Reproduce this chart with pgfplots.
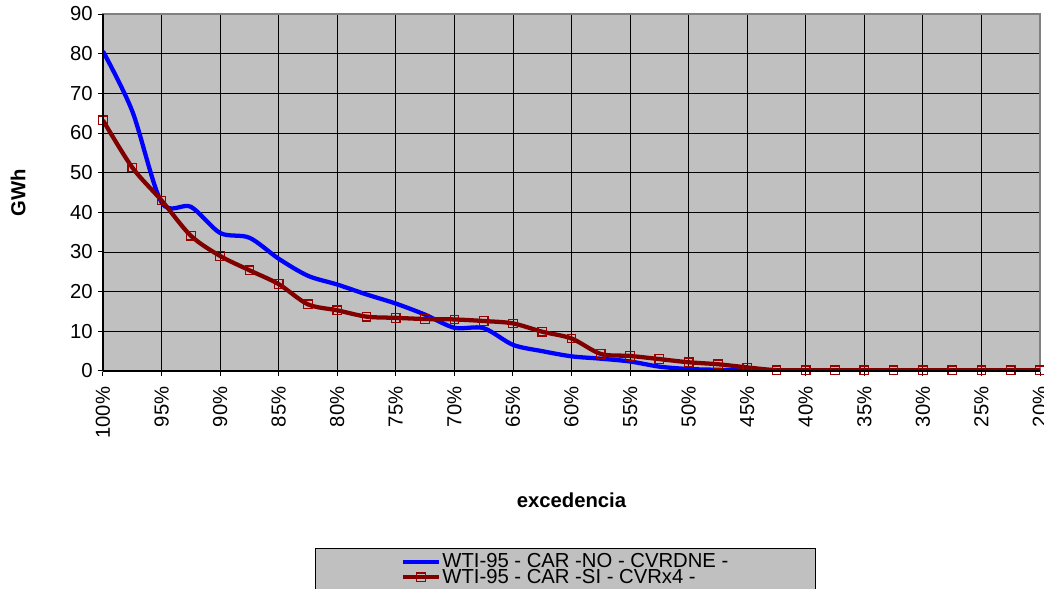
\documentclass[border=0pt]{standalone}
\usepackage{pgfplots}
\pgfplotsset{compat=1.18}
\usepackage{fontspec}
\setmainfont{Liberation Sans}
\definecolor{plotbg}{HTML}{C0C0C0}
\definecolor{darkred}{HTML}{800000}
\definecolor{markred}{HTML}{9A0000}
\definecolor{frame}{HTML}{808080}
\begin{document}
\begin{tikzpicture}
\begin{axis}[
  scale only axis, width=702.75pt, height=267.75pt,
  xmin=0, xmax=32, ymin=0, ymax=90,
  xtick={0,2,...,32},
  xticklabels={100\%,95\%,90\%,85\%,80\%,75\%,70\%,65\%,60\%,55\%,50\%,45\%,40\%,35\%,30\%,25\%,20\%},
  ytick={0,10,...,90},
  grid=major, grid style={black, line width=0.6pt},
  axis background/.style={fill=plotbg},
  axis line style={draw=frame, line width=0.9pt},
  tick style={black, line width=0.75pt}, tick align=outside, major tick length=3.75pt, tick pos=left,
  /pgf/number format/assume math mode=true,
  font=\fontsize{15.2}{17}\selectfont,
  x tick label style={rotate=90, anchor=east, font=\fontsize{15.2}{17}\selectfont},
  xticklabel shift=4.5pt,
  y tick label style={font=\fontsize{15.2}{17}\selectfont},
  yticklabel shift=0.5pt,
  xlabel={\bfseries excedencia}, ylabel={\bfseries GWh},
  xlabel style={at={(axis description cs:0.5,-0.3613)}, anchor=center, font=\fontsize{15.2}{17}\selectfont},
  ylabel style={at={(axis description cs:-0.0907,0.5)}, anchor=center, font=\fontsize{15.2}{17}\selectfont},
  legend style={at={(axis description cs:0.2263,-0.4958)}, anchor=north west,
    fill=plotbg, draw=black, line width=0.6pt,
    font=\fontsize{15.2}{12}\selectfont,
    inner xsep=64pt, inner ysep=3pt, row sep=-2.5pt,
    cells={anchor=west}, nodes={inner sep=1pt}},
  legend image code/.code={\draw[#1, mark repeat=2, mark phase=2] plot coordinates {(0pt,0pt) (13.5pt,0pt) (27pt,0pt)};},
  after end axis/.code={\draw[black, line width=0.9pt] (rel axis cs:0,0) -- (rel axis cs:0,1); \draw[black, line width=0.9pt] (rel axis cs:0,0) -- (rel axis cs:1,0);},
]
\addplot[color=blue, line width=3.2pt, smooth, no marks] coordinates {
(0,80.6) (1,65.5) (2,42.5) (3,41.4) (4,34.8) (5,33.6) (6,28.3) (7,24.0) (8,21.8) (9,19.3) (10,17.0)
(11,14.2) (12,10.9) (13,10.8) (14,6.6) (15,5.0) (16,3.7) (17,3.1) (18,2.4) (19,1.1) (20,0.5) (21,0.3)
(22,0.1) (23,0) (24,0) (25,0) (26,0) (27,0) (28,0) (29,0) (30,0) (31,0) (32,0)};
\addlegendentry{WTI-95 - CAR -NO - CVRDNE -}
\addplot[color=darkred, line width=3.2pt, smooth, mark=square, mark size=3.2pt,
  mark options={solid, draw=markred, fill=none, line width=0.9pt}] coordinates {
(0,63.2) (1,51.3) (2,43.0) (3,34.1) (4,29.0) (5,25.4) (6,21.9) (7,16.8) (8,15.3) (9,13.7) (10,13.4)
(11,13.1) (12,13.0) (13,12.6) (14,12.0) (15,9.9) (16,8.2) (17,4.3) (18,3.8) (19,3.0) (20,2.2) (21,1.7)
(22,0.9) (23,0.2) (24,0.2) (25,0.2) (26,0.2) (27,0.2) (28,0.2) (29,0.2) (30,0.2) (31,0.2) (32,0.2)};
\addlegendentry{WTI-95 - CAR -SI - CVRx4 -}
\end{axis}
\pgfresetboundingbox
\path[use as bounding box] ([xshift=-77.25pt,yshift=-163.5pt]current axis.south west) rectangle ([xshift=3pt,yshift=10.5pt]current axis.north east);
\end{tikzpicture}
\end{document}
